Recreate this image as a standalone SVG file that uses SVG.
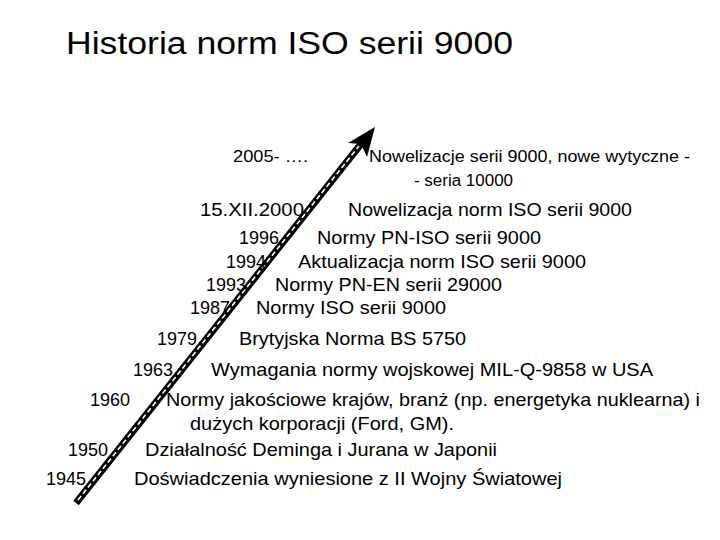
<svg xmlns="http://www.w3.org/2000/svg" width="720" height="540" viewBox="0 0 720 540">
  <style>
    text { font-family: "Liberation Sans", Arial, sans-serif; fill: #000; }
    .title { font-size: 31px; }
    .lbl { font-size: 19px; }
    .sm { font-size: 16px; }
  </style>
  <rect width="720" height="540" fill="#fff"/>
  <g id="title">
    <text class="title" x="66" y="54" textLength="447" lengthAdjust="spacingAndGlyphs">Historia norm ISO serii 9000</text>
  </g>
  <g id="connectors">
    <line x1="76" y1="503" x2="361" y2="144" stroke="#000" stroke-width="7"/>
    <line x1="78" y1="500" x2="359" y2="146" stroke="#fff" stroke-width="1.6" stroke-dasharray="5 3"/>
    <polygon points="375,127 348,143 361,144 367,157" fill="#000"/>
  </g>
  <g id="row-2005">
    <text class="sm" x="233" y="162" textLength="75" lengthAdjust="spacingAndGlyphs">2005- ….</text>
    <text class="sm" x="369" y="162" textLength="321" lengthAdjust="spacingAndGlyphs">Nowelizacje serii 9000, nowe wytyczne -</text>
    <text class="sm" x="414" y="186" textLength="99" lengthAdjust="spacingAndGlyphs">- seria 10000</text>
  </g>
  <g id="row-2000">
    <text class="lbl" x="200" y="216" textLength="104" lengthAdjust="spacingAndGlyphs">15.XII.2000</text>
    <text class="lbl" x="348" y="216" textLength="284" lengthAdjust="spacingAndGlyphs">Nowelizacja norm ISO serii 9000</text>
  </g>
  <g id="row-1996">
    <text class="lbl" x="239" y="244" textLength="40" lengthAdjust="spacingAndGlyphs">1996</text>
    <text class="lbl" x="317" y="244" textLength="224" lengthAdjust="spacingAndGlyphs">Normy PN-ISO serii 9000</text>
  </g>
  <g id="row-1994">
    <text class="lbl" x="226" y="268" textLength="40" lengthAdjust="spacingAndGlyphs">1994</text>
    <text class="lbl" x="298" y="268" textLength="288" lengthAdjust="spacingAndGlyphs">Aktualizacja norm ISO serii 9000</text>
  </g>
  <g id="row-1993">
    <text class="lbl" x="206" y="291" textLength="40" lengthAdjust="spacingAndGlyphs">1993</text>
    <text class="lbl" x="275" y="291" textLength="227" lengthAdjust="spacingAndGlyphs">Normy PN-EN serii 29000</text>
  </g>
  <g id="row-1987">
    <text class="lbl" x="190" y="314" textLength="40" lengthAdjust="spacingAndGlyphs">1987</text>
    <text class="lbl" x="256" y="314" textLength="190" lengthAdjust="spacingAndGlyphs">Normy ISO serii 9000</text>
  </g>
  <g id="row-1979">
    <text class="lbl" x="157" y="345" textLength="40" lengthAdjust="spacingAndGlyphs">1979</text>
    <text class="lbl" x="239" y="345" textLength="227" lengthAdjust="spacingAndGlyphs">Brytyjska Norma BS 5750</text>
  </g>
  <g id="row-1963">
    <text class="lbl" x="133" y="376" textLength="40" lengthAdjust="spacingAndGlyphs">1963</text>
    <text class="lbl" x="211" y="376" textLength="442" lengthAdjust="spacingAndGlyphs">Wymagania normy wojskowej MIL-Q-9858 w USA</text>
  </g>
  <g id="row-1960">
    <text class="lbl" x="90" y="406" textLength="40" lengthAdjust="spacingAndGlyphs">1960</text>
    <text class="lbl" x="166" y="406" textLength="534" lengthAdjust="spacingAndGlyphs">Normy jakościowe krajów, branż (np. energetyka nuklearna) i</text>
    <text class="lbl" x="190" y="430" textLength="264" lengthAdjust="spacingAndGlyphs">dużych korporacji (Ford, GM).</text>
  </g>
  <g id="row-1950">
    <text class="lbl" x="68" y="456" textLength="40" lengthAdjust="spacingAndGlyphs">1950</text>
    <text class="lbl" x="145" y="456" textLength="352" lengthAdjust="spacingAndGlyphs">Działalność Deminga i Jurana w Japonii</text>
  </g>
  <g id="row-1945">
    <text class="lbl" x="46" y="485" textLength="40" lengthAdjust="spacingAndGlyphs">1945</text>
    <text class="lbl" x="134" y="485" textLength="428" lengthAdjust="spacingAndGlyphs">Doświadczenia wyniesione z II Wojny Światowej</text>
  </g>
</svg>
